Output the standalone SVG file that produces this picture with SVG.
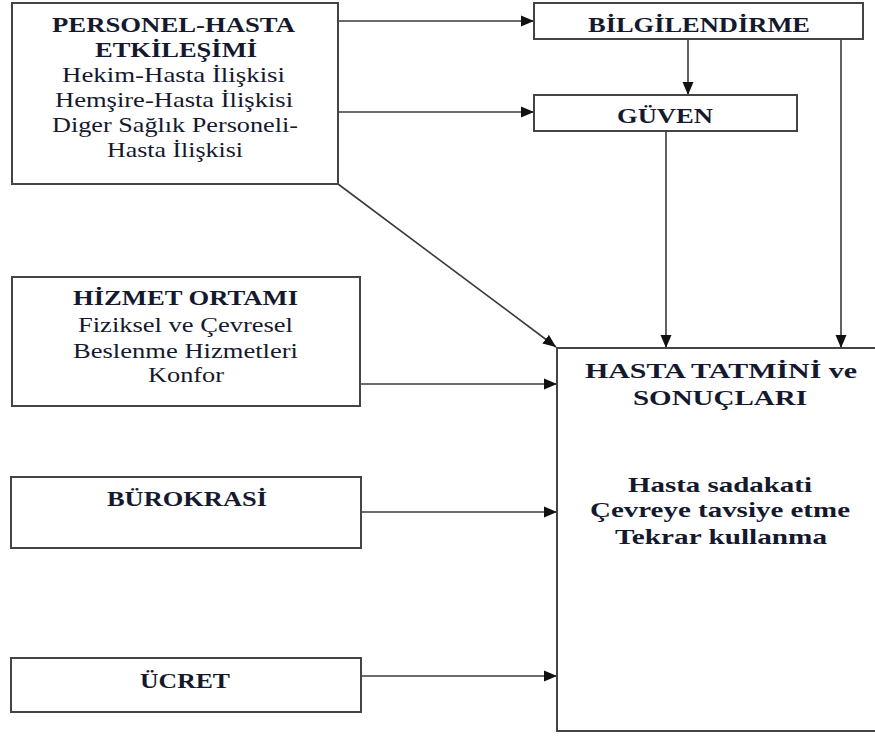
<svg xmlns="http://www.w3.org/2000/svg" width="875" height="736" viewBox="0 0 875 736">
<style>
.box{fill:#fff;stroke:#444;stroke-width:2}
.t{font-family:"Liberation Serif","Times New Roman",serif;font-size:21px;fill:#15192e}
.b{font-weight:bold}
.c{fill:none;stroke:#3a3a3a;stroke-width:1.6}
</style>
<defs>
<marker id="ah" markerUnits="userSpaceOnUse" markerWidth="14" markerHeight="12" refX="13" refY="6" orient="auto">
<path d="M0,0.5 L13,6 L0,11.5 Z" fill="#111"/>
</marker>
</defs>
<rect width="875" height="736" fill="#fff"/>
<g id="connectors">
<line class="c" x1="338" y1="21" x2="534" y2="21" marker-end="url(#ah)"/>
<line class="c" x1="338" y1="112" x2="534" y2="112" marker-end="url(#ah)"/>
<line class="c" x1="688" y1="39" x2="688" y2="95" marker-end="url(#ah)"/>
<line class="c" x1="841" y1="39" x2="841" y2="348" marker-end="url(#ah)"/>
<line class="c" x1="666" y1="131" x2="666" y2="348" marker-end="url(#ah)"/>
<line class="c" x1="338" y1="184" x2="556" y2="347" marker-end="url(#ah)"/>
<line class="c" x1="360" y1="384" x2="557" y2="384" marker-end="url(#ah)"/>
<line class="c" x1="361" y1="512" x2="557" y2="512" marker-end="url(#ah)"/>
<line class="c" x1="361" y1="676" x2="557" y2="676" marker-end="url(#ah)"/>
</g>
<g id="personel">
<rect class="box" x="12" y="3" width="326" height="181"/>
<text class="t b" x="52" y="32" textLength="243" lengthAdjust="spacingAndGlyphs">PERSONEL-HASTA</text>
<text class="t b" x="95" y="57" textLength="162" lengthAdjust="spacingAndGlyphs">ETKİLEŞİMİ</text>
<text class="t" x="62" y="82" textLength="223" lengthAdjust="spacingAndGlyphs">Hekim-Hasta İlişkisi</text>
<text class="t" x="55" y="107" textLength="238" lengthAdjust="spacingAndGlyphs">Hemşire-Hasta İlişkisi</text>
<text class="t" x="52" y="132" textLength="246" lengthAdjust="spacingAndGlyphs">Diger Sağlık Personeli-</text>
<text class="t" x="107" y="157" textLength="136" lengthAdjust="spacingAndGlyphs">Hasta İlişkisi</text>
</g>
<g id="bilgilendirme">
<rect class="box" x="534" y="3" width="329" height="36"/>
<text class="t b" x="588" y="32" textLength="222" lengthAdjust="spacingAndGlyphs">BİLGİLENDİRME</text>
</g>
<g id="guven">
<rect class="box" x="534" y="95" width="263" height="36"/>
<text class="t b" x="617" y="123" textLength="96" lengthAdjust="spacingAndGlyphs">GÜVEN</text>
</g>
<g id="hizmet">
<rect class="box" x="12" y="277" width="348" height="129"/>
<text class="t b" x="73" y="305" textLength="225" lengthAdjust="spacingAndGlyphs">HİZMET ORTAMI</text>
<text class="t" x="78" y="332" textLength="215" lengthAdjust="spacingAndGlyphs">Fiziksel ve Çevresel</text>
<text class="t" x="73" y="358" textLength="225" lengthAdjust="spacingAndGlyphs">Beslenme Hizmetleri</text>
<text class="t" x="148" y="382" textLength="76" lengthAdjust="spacingAndGlyphs">Konfor</text>
</g>
<g id="burokrasi">
<rect class="box" x="11" y="477" width="350" height="71"/>
<text class="t b" x="107" y="506" textLength="160" lengthAdjust="spacingAndGlyphs">BÜROKRASİ</text>
</g>
<g id="ucret">
<rect class="box" x="11" y="658" width="350" height="54"/>
<text class="t b" x="140" y="688" textLength="90" lengthAdjust="spacingAndGlyphs">ÜCRET</text>
</g>
<g id="hasta">
<rect class="box" x="557" y="348" width="330" height="383"/>
<text class="t b" x="585" y="378" textLength="272" lengthAdjust="spacingAndGlyphs">HASTA TATMİNİ ve</text>
<text class="t b" x="633" y="405" textLength="174" lengthAdjust="spacingAndGlyphs">SONUÇLARI</text>
<text class="t b" x="628" y="492" textLength="184" lengthAdjust="spacingAndGlyphs">Hasta sadakati</text>
<text class="t b" x="590" y="517" textLength="260" lengthAdjust="spacingAndGlyphs">Çevreye tavsiye etme</text>
<text class="t b" x="615" y="544" textLength="212" lengthAdjust="spacingAndGlyphs">Tekrar kullanma</text>
</g>
</svg>
